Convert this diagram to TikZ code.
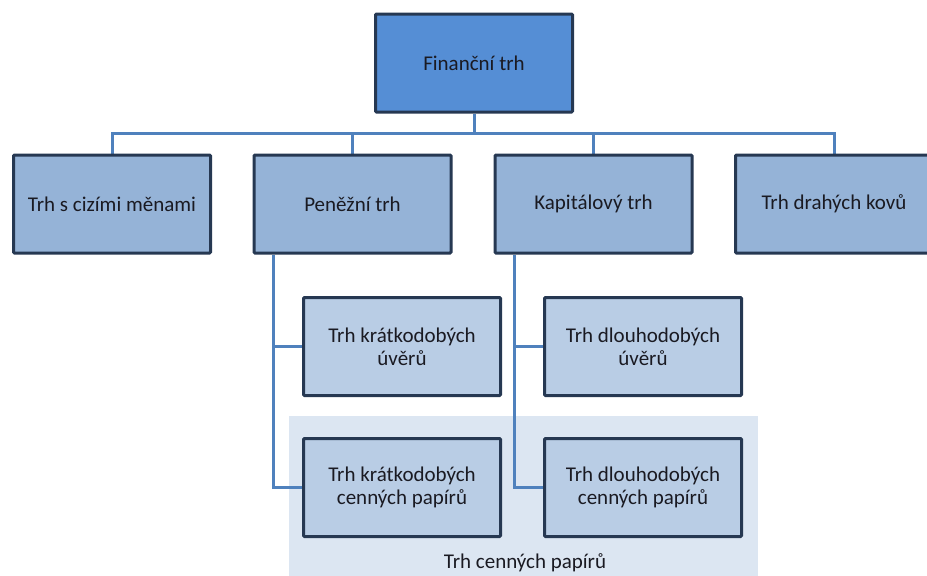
\documentclass[tikz,border=0pt]{standalone}
\usepackage{fontspec}
\setmainfont{Carlito}
\usetikzlibrary{backgrounds}
\definecolor{topfill}{HTML}{558ED5}
\definecolor{midfill}{HTML}{95B3D7}
\definecolor{lowfill}{HTML}{B9CDE5}
\definecolor{bgfill}{HTML}{DCE6F2}
\definecolor{edge}{HTML}{263852}
\definecolor{conn}{HTML}{4F81BD}
\definecolor{txt}{HTML}{1A1A22}
\begin{document}
\begin{tikzpicture}[x=1pt,y=-1pt,
  box/.style={draw=edge,line width=3pt,rounded corners=1pt,minimum width=197pt,minimum height=98pt,
    align=center,text=txt,font=\fontsize{21}{23}\selectfont,inner sep=0pt},
  topbox/.style={box,fill=topfill},
  midbox/.style={box,fill=midfill},
  lowbox/.style={box,fill=lowfill},
  link/.style={draw=conn,line width=3pt}]
\useasboundingbox (0,0) rectangle (927,576);
\clip (0,0) rectangle (927,576);
% nodes
\node[topbox] (fin) at (474,63) {Finanční trh};
\node[midbox] (cizi) at (112,204) {Trh s cizími měnami};
\node[midbox] (penez) at (352.5,204) {Peněžní trh};
\node[midbox] (kapit) at (593.5,204) {Kapitálový trh};
\node[midbox] (kovy) at (834,204) {Trh drahých kovů};
\node[lowbox] (kuv) at (402,346.5) {Trh krátkodobých\\úvěrů};
\node[lowbox] (kcp) at (402,487.5) {Trh krátkodobých\\cenných papírů};
\node[lowbox] (duv) at (643,346.5) {Trh dlouhodobých\\úvěrů};
\node[lowbox] (dcp) at (643,487.5) {Trh dlouhodobých\\cenných papírů};
\node[text=txt,font=\fontsize{21}{23}\selectfont] (grp) at (525,563) {Trh cenných papírů};
% connectors
\coordinate (bus) at (474,133);
\coordinate (spL) at (273,255);
\coordinate (spR) at (514,255);
\begin{scope}[on background layer]
\fill[bgfill] (289,416) rectangle (758,580);
\path[link] (fin.south) -- (fin.south |- bus);
\path[link] (fin.south |- bus) -| (cizi.north);
\path[link] (fin.south |- bus) -| (penez.north);
\path[link] (fin.south |- bus) -| (kapit.north);
\path[link] (fin.south |- bus) -| (kovy.north);
\path[link] (spL) |- (kuv.west);
\path[link] (spL) |- (kcp.west);
\path[link] (spR) |- (duv.west);
\path[link] (spR) |- (dcp.west);
\end{scope}
\end{tikzpicture}
\end{document}
